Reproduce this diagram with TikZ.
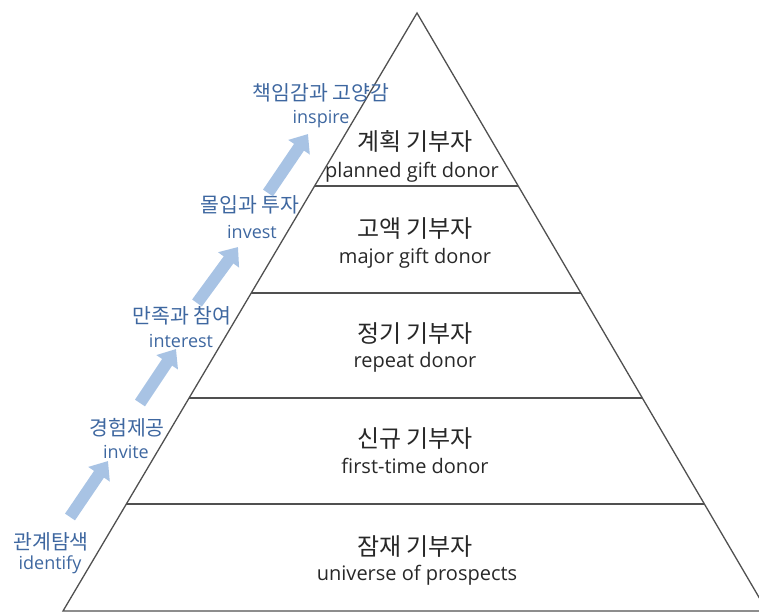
\documentclass[tikz,border=0pt]{standalone}
\usepackage{fontspec}
\setmainfont{Noto Sans CJK KR}
\newfontfamily\latinfont{Open Sans}
\usetikzlibrary{arrows.meta,calc}
\definecolor{edge}{RGB}{80,80,80}
\definecolor{txt}{RGB}{40,40,40}
\definecolor{bluetxt}{RGB}{62,103,160}
\definecolor{arrowblue}{RGB}{168,195,228}
\tikzset{
  kor/.style={text=txt,font=\fontsize{24}{26}\selectfont,inner sep=0pt},
  eng/.style={text=txt,font=\latinfont\fontsize{20}{22}\selectfont,inner sep=0pt},
  bkor/.style={text=bluetxt,font=\fontsize{20.5}{22}\selectfont,inner sep=0pt},
  beng/.style={text=bluetxt,font=\latinfont\fontsize{18}{20}\selectfont,inner sep=0pt},
  pyr/.style={draw=edge,line width=1.3pt,line join=miter},
  stepup/.style={draw=arrowblue,line width=12pt,-{Triangle[width=25pt,length=16pt]}}
}
\begin{document}
\begin{tikzpicture}[x=1pt,y=-1pt]
\useasboundingbox (0,0) rectangle (759,613);
\clip (0,0) rectangle (759,613);
\coordinate (A) at (417,13);
\coordinate (L) at (63,611);
\coordinate (R) at (767,611);
% level coordinates on the sides
\foreach \n/\y in {1/186,2/293,3/398,4/504}{
  \coordinate (l\n) at ($(A)!{(\y-13)/598}!(L)$);
  \coordinate (r\n) at ($(A)!{(\y-13)/598}!(R)$);
}
\draw[pyr] (L) -- (A) -- (R) -- cycle;
\foreach \n in {1,2,3,4}{ \draw[pyr] (l\n) -- (r\n); }
% level labels
\node[kor] (k1) at (415,141) {계획 기부자};
\node[eng] (e1) at (412,172) {planned gift donor};
\node[kor] (k2) at (415,229) {고액 기부자};
\node[eng] (e2) at (415,258) {major gift donor};
\node[kor] (k3) at (415,334) {정기 기부자};
\node[eng] (e3) at (415,362) {repeat donor};
\node[kor] (k4) at (415,439) {신규 기부자};
\node[eng] (e4) at (415,466) {first-time donor};
\node[kor] (k5) at (415,547) {잠재 기부자};
\node[eng] (e5) at (417,575) {universe of prospects};
% blue stage labels
\node[bkor] (b5k) at (321,93) {책임감과 고양감};
\node[beng] (b5e) at (321,119) {inspire};
\node[bkor] (b4k) at (250,205) {몰입과 투자};
\node[beng] (b4e) at (252,232) {invest};
\node[bkor] (b3k) at (182,316) {만족과 참여};
\node[beng] (b3e) at (181,341) {interest};
\node[bkor] (b2k) at (127,428) {경험제공};
\node[beng] (b2e) at (126,452) {invite};
\node[bkor] (b1k) at (51,542) {관계탐색};
\node[beng] (b1e) at (50,565) {identify};
% arrows
\coordinate (s1) at (70,517);  \coordinate (t1) at (108,461);
\coordinate (s2) at (140,403); \coordinate (t2) at (176,349);
\coordinate (s3) at (197,303); \coordinate (t3) at (238,247);
\coordinate (s4) at (268,193); \coordinate (t4) at (308,134);
\foreach \i in {1,2,3,4}{ \draw[stepup] (s\i) -- (t\i); }
\end{tikzpicture}
\end{document}
